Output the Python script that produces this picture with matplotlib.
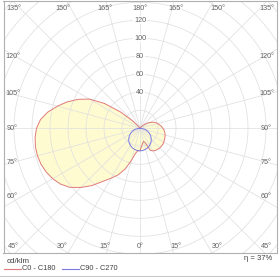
import numpy as np
import matplotlib.pyplot as plt
from matplotlib.lines import Line2D

# luminous intensity, cd/klm, every 5 deg from nadir (0) to zenith (180)
gamma = np.arange(0, 185, 5)
c0 = [25, 25, 28, 37, 48, 57, 64, 72, 83, 93, 102, 108, 112, 115, 117, 118, 118, 117, 115,
      111, 104, 95, 86, 76, 65, 48, 28, 12, 4, 1, 0, 0, 0, 0, 0, 0, 0]
c180 = [25, 20, 17, 15, 17, 27, 29, 30, 30.5, 31, 31, 31, 30.5, 30, 29.5, 29, 28, 27, 25.5,
        24, 22, 20.5, 18.5, 16, 13, 10, 7, 4, 2, 0.5, 0, 0, 0, 0, 0, 0, 0]
c90 = [25, 24.9, 24.6, 24.1, 23.5, 22.7, 21.7, 20.5, 19.2, 17.7, 16.1, 14.3, 12.5, 10.6, 8.6,
       6.5, 4.3, 2.2, 0, 0, 0, 0, 0, 0, 0, 0, 0, 0, 0, 0, 0, 0, 0, 0, 0, 0, 0]
c270 = c90

ring_labels = [40, 60, 80, 100, 120]
eta = "η = 37%"

W, H = 280, 277
fig = plt.figure(figsize=(W / 100, H / 100), dpi=100)
plt.rcParams['font.family'] = ['Liberation Sans', 'DejaVu Sans']

# axes frame in pixels: x 3.5..276.5, y 1..252.5 ; centre at (140, 128.3), 0.9 px per cd/klm
cx, cy, k = 140, 128.3, 0.9
ax = fig.add_axes([3.5 / W, 1 - 252.5 / H, 273 / W, 251.5 / H])
ax.set_xlim((3.5 - cx) / k, (276.5 - cx) / k)
ax.set_ylim((cy - 252.5) / k, (cy - 1) / k)
ax.set_xticks([])
ax.set_yticks([])
for s in ax.spines.values():
    s.set_color('#b0b0b0')
    s.set_linewidth(0.8)

grid_c = '#e0e0e0'
t = np.linspace(0, 2 * np.pi, 400)
for r in range(20, 220, 20):
    ax.plot(r * np.cos(t), r * np.sin(t), color=grid_c, lw=0.55, zorder=2)
for a in np.arange(0, 360, 15):
    ar = np.radians(a)
    ax.plot([0, 300 * np.sin(ar)], [0, -300 * np.cos(ar)], color=grid_c, lw=0.55, zorder=2)


def curve(left, right):
    g = np.radians(gamma)
    l = np.asarray(left, float)
    r = np.asarray(right, float)
    x = np.concatenate([-l[::-1] * np.sin(g[::-1]), r * np.sin(g)])
    y = np.concatenate([-l[::-1] * np.cos(g[::-1]), -r * np.cos(g)])
    return x, y


xr, yr = curve(c0, c180)
xb, yb = curve(c270, c90)
fill_c = '#fffbd0'
ax.fill(xr, yr, color=fill_c, lw=0, zorder=1)
ax.fill(xb, yb, color=fill_c, lw=0, zorder=1)
red, blue = '#e07a7a', '#7a7ae0'
ax.plot(xr, yr, color=red, lw=0.7, zorder=3)
ax.plot(xb, yb, color=blue, lw=0.7, zorder=3)

txt = '#606060'
fs = 5.2
for r in ring_labels:
    ax.text(0, r, str(r), ha='center', va='center', fontsize=fs, color=txt, zorder=4,
            bbox=dict(facecolor='white', edgecolor='none', pad=0.4))

# angle labels (pixel positions along the frame)
top = [(13.5, 135), (62.5, 150), (104.5, 165), (140, 180), (175.5, 165), (217.5, 150), (266.5, 135)]
bottom = [(13.5, 45), (62.5, 30), (104.5, 15), (140, 0), (175.5, 15), (217.5, 30), (266.5, 45)]
side = [(56, 120), (93.5, 105), (128.3, 90), (162.5, 75), (197, 60)]
for x, a in top:
    fig.text(x / W, 1 - 8.5 / H, f"{a}°", ha='center', va='center', fontsize=fs, color=txt)
for x, a in bottom:
    fig.text(x / W, 1 - 246 / H, f"{a}°", ha='center', va='center', fontsize=fs, color=txt)
for y, a in side:
    fig.text(12.5 / W, 1 - y / H, f"{a}°", ha='center', va='center', fontsize=fs, color=txt)
    fig.text(266.5 / W, 1 - y / H, f"{a}°", ha='center', va='center', fontsize=fs, color=txt)

# legend
fig.text(7 / W, 1 - 261.5 / H, "cd/klm", ha='left', va='center', fontsize=5.8, color='#404040')
fig.add_artist(Line2D([4 / W, 21 / W], [1 - 269 / H] * 2, color=red, lw=0.8))
fig.text(22 / W, 1 - 269 / H, "C0 - C180", ha='left', va='center', fontsize=5.3, color='#404040')
fig.add_artist(Line2D([62 / W, 79 / W], [1 - 269 / H] * 2, color=blue, lw=0.8))
fig.text(80 / W, 1 - 269 / H, "C90 - C270", ha='left', va='center', fontsize=5.3, color='#404040')
fig.text(272 / W, 1 - 258.5 / H, eta, ha='right', va='center', fontsize=5.5, color='#404040')
fig.add_artist(Line2D([0, 1], [1 - 276 / H] * 2, color='#c8c8c8', lw=0.8))

fig.savefig('out.png', dpi=100)
